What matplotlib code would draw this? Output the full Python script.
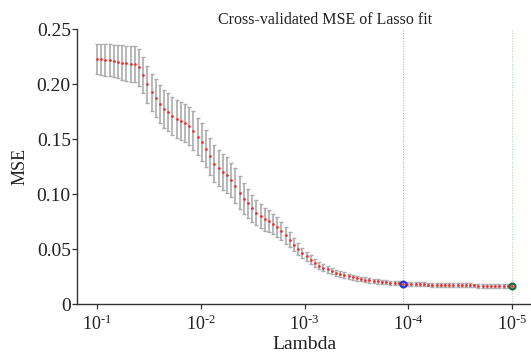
import numpy as np
import matplotlib
matplotlib.use("Agg")
import matplotlib.pyplot as plt
from matplotlib.ticker import NullLocator

plt.rcParams['font.family'] = ['Liberation Serif', 'DejaVu Serif']
plt.rcParams['mathtext.fontset'] = 'custom'
plt.rcParams['mathtext.rm'] = 'Liberation Serif'
plt.rcParams['mathtext.it'] = 'Liberation Serif:italic'

# ---- data ----
LAMBDA_MAX = 1e-1
LAMBDA_MIN = 1e-5
N_LAMBDA = 100
lambdas = np.logspace(np.log10(LAMBDA_MAX), np.log10(LAMBDA_MIN), N_LAMBDA)

mse = [
    0.2230, 0.2228, 0.2222, 0.2218, 0.2212, 0.2205, 0.2198, 0.2192, 0.2187, 0.2185,
    0.2155, 0.2085, 0.2000, 0.1927, 0.1873, 0.1820, 0.1778, 0.1745, 0.1715, 0.1688,
    0.1666, 0.1650, 0.1624, 0.1580, 0.1525, 0.1473, 0.1415, 0.1345, 0.1280, 0.1237,
    0.1205, 0.1175, 0.1130, 0.1080, 0.1015, 0.0960, 0.0918, 0.0873, 0.0833, 0.0803,
    0.0775, 0.0755, 0.0730, 0.0700, 0.0666, 0.0627, 0.0585, 0.0543, 0.0505, 0.0466,
    0.0435, 0.0403, 0.0378, 0.0352, 0.0333, 0.0318, 0.0303, 0.0288, 0.0276, 0.0264,
    0.0255, 0.0245, 0.0237, 0.0230, 0.0224, 0.0218, 0.0213, 0.0209, 0.0204, 0.0200,
    0.0197, 0.0194, 0.0191, 0.0188, 0.0186, 0.0185, 0.0183, 0.0182, 0.0181, 0.0180,
    0.0179, 0.0178, 0.0177, 0.0176, 0.0175, 0.0175, 0.0174, 0.0173, 0.0172, 0.0172,
    0.0171, 0.0170, 0.0170, 0.0169, 0.0169, 0.0168, 0.0168, 0.0167, 0.0167, 0.0166,
]

se = [
    0.0137, 0.0140, 0.0143, 0.0146, 0.0149, 0.0152, 0.0155, 0.0158, 0.0162, 0.0166,
    0.0167, 0.0166, 0.0168, 0.0170, 0.0171, 0.0172, 0.0172, 0.0173, 0.0173, 0.0173,
    0.0173, 0.0173, 0.0173, 0.0173, 0.0172, 0.0172, 0.0171, 0.0170, 0.0168, 0.0165,
    0.0162, 0.0160, 0.0158, 0.0155, 0.0150, 0.0140, 0.0130, 0.0122, 0.0115, 0.0110,
    0.0105, 0.0100, 0.0095, 0.0090, 0.0085, 0.0078, 0.0068, 0.0058, 0.0053, 0.0049,
    0.0045, 0.0041, 0.0037, 0.0034, 0.0032, 0.0030, 0.0029, 0.0028, 0.0027, 0.0026,
    0.0025, 0.0024, 0.0023, 0.0022, 0.0021, 0.0021, 0.0020, 0.0020, 0.0020, 0.0019,
    0.0019, 0.0019, 0.0019, 0.0019, 0.0018, 0.0018, 0.0018, 0.0018, 0.0018, 0.0018,
    0.0018, 0.0018, 0.0018, 0.0018, 0.0018, 0.0018, 0.0018, 0.0018, 0.0018, 0.0018,
    0.0018, 0.0018, 0.0018, 0.0018, 0.0018, 0.0018, 0.0018, 0.0018, 0.0018, 0.0018,
]

idx_1se = 73      # index of Lambda1SE (blue)
idx_min = 99      # index of LambdaMinMSE (green)

x_ticks = [1e-1, 1e-2, 1e-3, 1e-4, 1e-5]
x_tick_labels = [r'$10^{\text{-1}}$', r'$10^{\text{-2}}$', r'$10^{\text{-3}}$',
                 r'$10^{\text{-4}}$', r'$10^{\text{-5}}$']
y_ticks = [0, 0.05, 0.10, 0.15, 0.20, 0.25]
y_tick_labels = ['0', '0.05', '0.10', '0.15', '0.20', '0.25']

# ---- figure ----
W, H = 531, 354
fig = plt.figure(figsize=(W / 100, H / 100), dpi=100)
fig.patch.set_facecolor('white')
left, bottom, top, right = 77, 304.3, 29.3, 531
ax = fig.add_axes([left / W, (H - bottom) / H, (right - left) / W, (bottom - top) / H])

ax.set_xscale('log')
ax.axvline(lambdas[idx_1se], color='#a0a0ff', ls=':', lw=0.7, zorder=1)
ax.axvline(lambdas[idx_min], color='#a0d8a0', ls=':', lw=0.7, zorder=1)

ax.errorbar(lambdas, mse, yerr=se, fmt='none', ecolor='#ababab',
            elinewidth=1.2, capsize=1.7, capthick=1.0, zorder=2)
ax.plot(lambdas, mse, 'o', color='#ff2020', ms=1.9, mew=0, zorder=3)
ax.plot(lambdas[idx_1se], mse[idx_1se], 'o', mfc='none', mec='#2a3acc', mew=1.6, ms=4.2, zorder=4)
ax.plot(lambdas[idx_min], mse[idx_min], 'o', mfc='none', mec='#17703a', mew=1.6, ms=4.2, zorder=4)

ax.set_xlim(0.156, 6.56e-6)
ax.set_ylim(0, 0.25)
ax.set_xticks(x_ticks)
ax.set_xticklabels(x_tick_labels)
ax.xaxis.set_minor_locator(NullLocator())
ax.set_yticks(y_ticks)
ax.set_yticklabels(y_tick_labels)

for s in ['top', 'right']:
    ax.spines[s].set_visible(False)
for s in ['left', 'bottom']:
    ax.spines[s].set_color('#333333')
    ax.spines[s].set_linewidth(1.0)

ax.tick_params(axis='both', direction='out', length=3.5, width=0.9, colors='#333333',
               labelcolor='#222222')
ax.tick_params(axis='y', pad=1, labelsize=14)
ax.tick_params(axis='x', pad=4, labelsize=13)

ax.set_xlabel('Lambda', fontsize=14, color='#222222', labelpad=1)
ax.set_ylabel('MSE', fontsize=13, color='#222222', labelpad=6)
ax.set_title('Cross-validated MSE of Lasso fit', fontsize=11.5, color='#222222',
             x=(325.5 - left) / (right - left), pad=4)

fig.savefig('out.png', dpi=100, facecolor='white')
